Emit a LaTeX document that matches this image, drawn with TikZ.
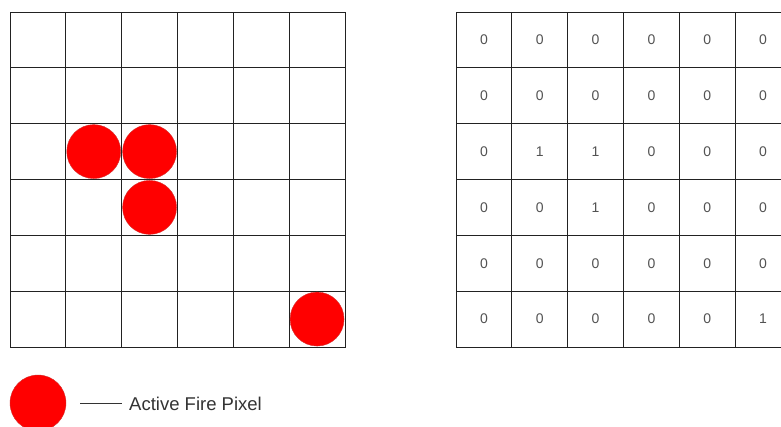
\documentclass[tikz,border=0pt]{standalone}
\usepackage{fontspec}
\setmainfont{Liberation Sans}
\definecolor{gridline}{HTML}{222222}
\definecolor{txt}{HTML}{333333}
\definecolor{fire}{HTML}{FF0000}
\definecolor{fireedge}{HTML}{B85450}
\begin{document}
\begin{tikzpicture}[x=1pt,y=-1pt,
  cell/.style={draw=gridline, line width=0.9pt, minimum size=55.83pt, inner sep=0pt, outer sep=0pt,
    font=\fontsize{14}{17}\selectfont, text=txt!85},
  firedot/.style={circle, fill=fire, draw=fireedge!60!fire, line width=0.4pt, minimum size=54pt, inner sep=0pt},
  legenddot/.style={circle, fill=fire, draw=fireedge!60!fire, line width=0.4pt, minimum size=56pt, inner sep=0pt},
  legendline/.style={draw=txt, line width=0.9pt},
  legendtext/.style={font=\fontsize{18.5}{22}\selectfont, text=txt, anchor=west, inner sep=0pt}]
\useasboundingbox (0,0) rectangle (781,426);
\def\cs{55.83}
% left grid
\foreach \r in {0,...,5}{
  \foreach \c in {0,...,5}{
    \node[cell] (L\r\c) at ({10+(\c+0.5)*\cs},{12+(\r+0.5)*\cs}) {};
  }
}
% right grid values
\foreach \r/\vals in {0/{0,0,0,0,0,0},1/{0,0,0,0,0,0},2/{0,1,1,0,0,0},3/{0,0,1,0,0,0},4/{0,0,0,0,0,0},5/{0,0,0,0,0,1}}{
  \foreach \v [count=\c from 0] in \vals {
    \node[cell] (R\r\c) at ({456+(\c+0.5)*\cs},{12+(\r+0.5)*\cs}) {\v};
  }
}
% fire pixels
\node[firedot] (f1) at (L21) {};
\node[firedot] (f2) at (L22) {};
\node[firedot] (f3) at (L32) {};
\node[firedot] (f4) at (L55) {};
% legend
\node[legenddot] (leg) at (38,403) {};
\coordinate (ls) at (80,403);
\node[legendtext] (legt) at (129,404) {Active Fire Pixel};
\draw[legendline] (ls) -- (122,403);
\end{tikzpicture}
\end{document}
